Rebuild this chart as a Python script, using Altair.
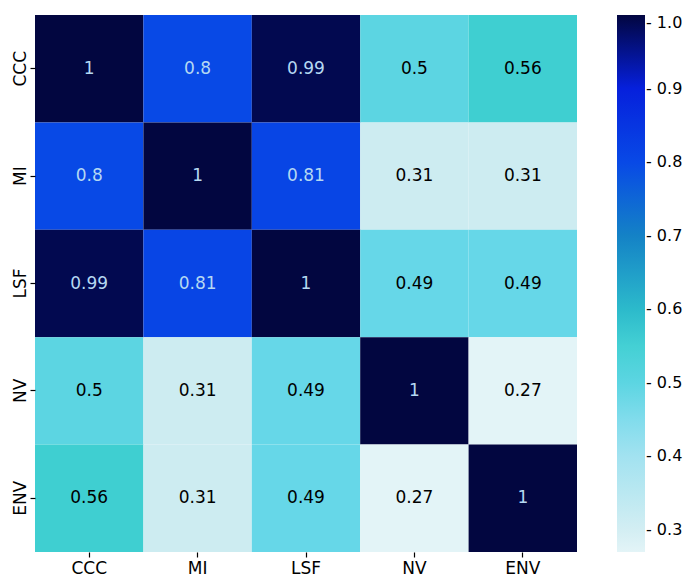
import altair as alt
import pandas as pd

labels = ["CCC", "MI", "LSF", "NV", "ENV"]
row_ccc = [1.0, 0.8, 0.99, 0.5, 0.56]
row_mi = [0.8, 1.0, 0.81, 0.31, 0.31]
row_lsf = [0.99, 0.81, 1.0, 0.49, 0.49]
row_nv = [0.5, 0.31, 0.49, 1.0, 0.27]
row_env = [0.56, 0.31, 0.49, 0.27, 1.0]
matrix = [row_ccc, row_mi, row_lsf, row_nv, row_env]

cbar_ticks = [0.3, 0.4, 0.5, 0.6, 0.7, 0.8, 0.9, 1.0]
cmap_stops = [0.27, 0.31, 0.4, 0.49, 0.5, 0.56, 0.6, 0.7, 0.8, 0.9, 1.0]
cmap_colors = ["#e3f4f7", "#cdecf1", "#a2e2f0", "#66d7e8", "#5cd5e2", "#3fcfd1",
               "#2cbacb", "#1482c6", "#0849e6", "#0620dc", "#020640"]

rows = []
for r, rlab in enumerate(labels):
    for c, clab in enumerate(labels):
        v = matrix[r][c]
        rows.append({"row": rlab, "col": clab, "value": v, "label": f"{v:.2g}"})
df = pd.DataFrame(rows)

FONT = "DejaVu Sans"

base = alt.Chart(df).encode(
    x=alt.X("col:N", sort=labels, title=None,
            axis=alt.Axis(labelAngle=0, labelFontSize=17, labelFont=FONT, labelColor="black",
                          tickSize=5, tickColor="black", tickWidth=1.2, domain=False,
                          labelPadding=3)),
    y=alt.Y("row:N", sort=labels, title=None,
            axis=alt.Axis(labelAngle=270, labelAlign="center", labelBaseline="alphabetic",
                          labelFontSize=17, labelFont=FONT, labelColor="black",
                          tickSize=5, tickColor="black", tickWidth=1.2, domain=False,
                          labelPadding=5)),
)

rect = base.mark_rect().encode(
    color=alt.Color("value:Q",
                    scale=alt.Scale(domain=cmap_stops, range=cmap_colors, interpolate="rgb"),
                    legend=alt.Legend(
                        title=None, orient="none", legendX=582, legendY=0,
                        direction="vertical", gradientLength=537, gradientThickness=28,
                        gradientStrokeWidth=0, values=cbar_ticks,
                        labelExpr="'- ' + format(datum.value, '.1f')",
                        labelFontSize=16, labelFont=FONT, labelColor="black",
                        labelOffset=1, labelOverlap=False, labelBaseline="middle")),
)

text = base.mark_text(font=FONT, fontSize=17).encode(
    text="label:N",
    color=alt.condition("datum.value > 0.7", alt.value("#b5d8f2"), alt.value("black")),
)

chart = (rect + text).properties(
    width=542, height=537, autosize="none",
    padding={"left": 27, "top": 7, "right": 107, "bottom": 26},
).configure_view(stroke=None)

chart.save("out.html", embed_options={"renderer": "svg", "actions": False})
